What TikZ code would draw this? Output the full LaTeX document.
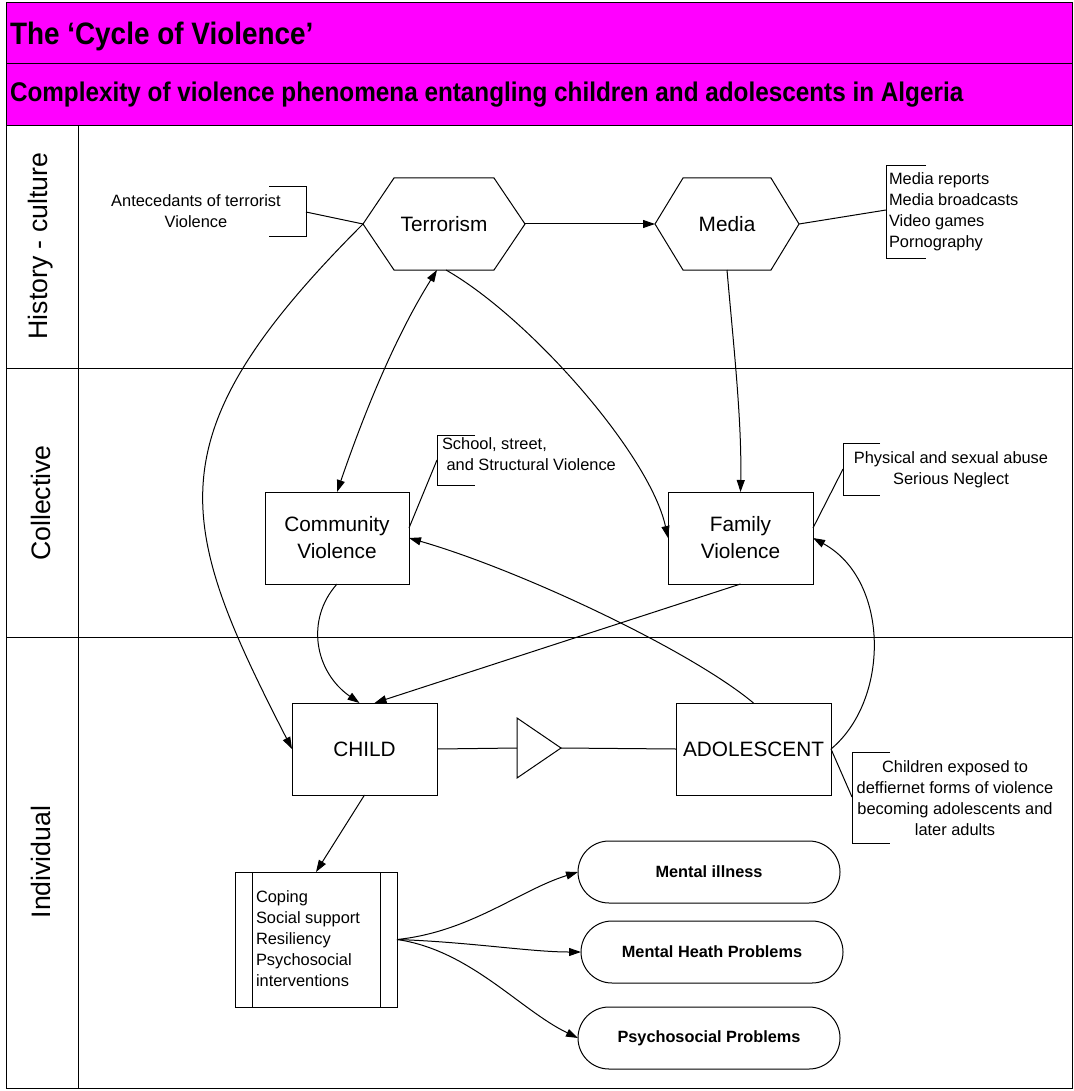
\documentclass[tikz,border=0pt]{standalone}
\usepackage{fontspec}
\setmainfont{Liberation Sans}
\newfontfamily\headfont[FakeStretch=0.9]{Liberation Sans}
\usetikzlibrary{arrows.meta,shapes.misc}
\definecolor{headerpink}{RGB}{255,0,255}

\begin{document}
\begin{tikzpicture}[x=1pt,y=-1pt,
  line width=1pt,
  every node/.style={inner sep=0pt, outer sep=0pt},
  lanelabel/.style={rotate=90, font=\fontsize{26.7}{32}\selectfont},
  hexbox/.style={minimum height=92pt, align=center, font=\fontsize{20.8}{27}\selectfont},
  procbox/.style={draw, minimum height=92pt, align=center, font=\fontsize{20.8}{27}\selectfont},
  outcome/.style={draw, rounded rectangle, minimum width=262pt, minimum height=62pt,
                  font=\bfseries\fontsize{16.3}{20}\selectfont},
  note/.style={align=center, font=\fontsize{16.4}{21}\selectfont},
  notel/.style={align=left, font=\fontsize{16.4}{21}\selectfont},
  arr/.style={-{Triangle[length=12pt,width=8pt]}},
  darr/.style={{Triangle[length=12pt,width=8pt]}-{Triangle[length=12pt,width=8pt]}},
  titletext/.style={anchor=base west, font=\headfont\bfseries\fontsize{31}{36}\selectfont},
  subtitletext/.style={anchor=base west, font=\headfont\bfseries\fontsize{27}{32}\selectfont},
]
\useasboundingbox (0,0) rectangle (1073,1091);

% header bands
\fill[headerpink] (6,3) rectangle (1072,126);
\draw (6,64) -- (1072,64);
\draw (6,126) -- (1072,126);
\node[titletext] (title) at (10,45) {The ‘Cycle of Violence’};
\node[subtitletext] (subtitle) at (10,102) {Complexity of violence phenomena entangling children and adolescents in Algeria};

% swim lanes
\draw (6,368) -- (1072,368);
\draw (6,637) -- (1072,637);
\draw (78,126) -- (78,1088);
\draw (6,3) rectangle (1072,1088);
\node[lanelabel] (lane1) at (41,246) {History - culture};
\node[lanelabel] (lane2) at (41,503) {Collective};
\node[lanelabel] (lane3) at (41,862) {Individual};

% hexagons
\node[hexbox, minimum width=162pt] (terr) at (444,224) {Terrorism};
\draw (terr.west) -- ([xshift=31pt]terr.north west) -- ([xshift=-31pt]terr.north east)
      -- (terr.east) -- ([xshift=-31pt]terr.south east) -- ([xshift=31pt]terr.south west) -- cycle;
\node[hexbox, minimum width=144pt] (media) at (727,224) {Media};
\draw (media.west) -- ([xshift=28pt]media.north west) -- ([xshift=-28pt]media.north east)
      -- (media.east) -- ([xshift=-28pt]media.south east) -- ([xshift=28pt]media.south west) -- cycle;

% process boxes
\node[procbox, minimum width=144pt] (comm) at (337,538) {Community\\Violence};
\node[procbox, minimum width=145pt] (fam) at (740.5,538) {Family\\Violence};
\node[procbox, minimum width=145pt] (child) at (364.5,749) {CHILD};
\node[procbox, minimum width=155pt] (adol) at (753.5,749) {ADOLESCENT};

% transition marker between child and adolescent
\coordinate (triw) at (517,748);
\coordinate (trie) at (561,748);
\draw (517,718) -- (trie) -- (517,778) -- cycle;
\draw (child.east) -- (triw);
\draw (trie) -- (adol.west);

% protective factors box
\node[draw, minimum width=162pt, minimum height=135pt] (cope) at (316,939.5) {};
\draw ([xshift=17pt]cope.north west) -- ([xshift=17pt]cope.south west);
\draw ([xshift=-17pt]cope.north east) -- ([xshift=-17pt]cope.south east);
\node[notel, anchor=west] (copetext) at (256,939) {Coping\\Social support\\Resiliency\\Psychosocial\\interventions};

% outcomes
\node[outcome] (ill) at (709,872) {Mental illness};
\node[outcome] (mhp) at (712,952) {Mental Heath Problems};
\node[outcome] (psp) at (709,1038) {Psychosocial Problems};

% annotations
\node[note] (ant) at (196,211) {Antecedants of terrorist\\Violence};
\draw (269,187) -- (306,187) -- (306,237) -- (269,237);
\coordinate (antb) at (306,212);
\draw (antb) -- (terr.west);

\node[notel, anchor=west] (medtext) at (889,212) {Media reports\\Media broadcasts\\Video games\\Pornography};
\draw (926,166) -- (886,166) -- (886,258) -- (926,258);
\coordinate (medb) at (886,210);
\draw (media.east) -- (medb);

\node[notel, anchor=north west] (schtext) at (442,438) {School, street,\\\hspace{0.28em}and Structural Violence};
\draw (475,435) -- (437,435) -- (437,485) -- (475,485);
\coordinate (schb) at (437,460);
\draw (schb) -- ([yshift=10pt]comm.east);

\node[note] (phytext) at (951,470) {Physical and sexual abuse\\Serious Neglect};
\draw (880,443) -- (843,443) -- (843,495) -- (880,495);
\coordinate (phyb) at (843,469);
\draw (phyb) -- ([yshift=10pt]fam.east);

\node[note] (chtext) at (955,798) {Children exposed to\\deffiernet forms of violence\\becoming adolescents and\\later adults};
\draw (890,752) -- (852,752) -- (852,843) -- (890,843);
\coordinate (chb) at (852,797);
\draw (adol.east) -- (chb);

% connectors
\draw[arr] (terr.east) -- (media.west);
\draw[arr] (terr.west) .. controls (151,436) and (175,521) .. (child.west);
\draw[darr] ([xshift=-7pt]terr.south) .. controls (390,345) and (358,431) .. (comm.north);
\draw[arr] ([xshift=2pt]terr.south) .. controls (530,318) and (650,455) .. (fam.west);
\draw[arr] (media.south) .. controls (733,340) and (742,420) .. (fam.north);
\draw[arr] (fam.south) -- ([xshift=10pt]child.north);
\draw[arr] (comm.south) .. controls (305,620) and (315,672) .. ([xshift=-5pt]child.north);
\draw[arr] (adol.north) .. controls (690,650) and (520,570) .. (comm.east);
\draw[arr] (adol.east) .. controls (890,700) and (890,580) .. (fam.east);
\draw[arr] (child.south) -- (cope.north);
\draw[arr] (cope.east) .. controls (470,932) and (520,890) .. (ill.west);
\draw[arr] (cope.east) .. controls (470,942) and (530,952) .. (mhp.west);
\draw[arr] (cope.east) .. controls (470,950) and (520,1010) .. (psp.west);
\end{tikzpicture}
\end{document}
